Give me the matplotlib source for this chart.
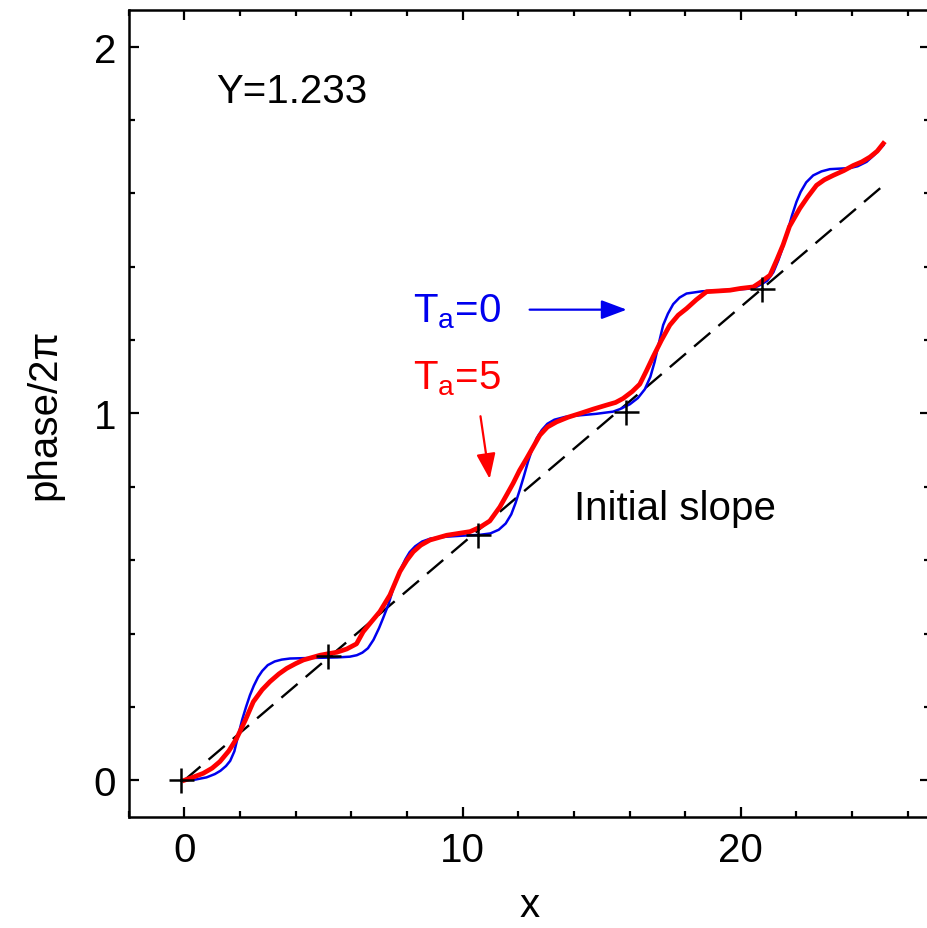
import matplotlib
matplotlib.use("Agg")
import matplotlib.pyplot as plt
from matplotlib.ticker import MultipleLocator

plt.rcParams['font.family'] = ['Liberation Sans', 'DejaVu Sans']
plt.rcParams['mathtext.fontset'] = 'custom'
plt.rcParams['mathtext.rm'] = 'Liberation Sans'
plt.rcParams['mathtext.it'] = 'Liberation Sans:italic'

# T_a = 0 (blue)
blue_x = [0, 0.4, 0.8, 1.1, 1.3, 1.5, 1.65, 1.8, 1.94, 2.08, 2.22, 2.36, 2.5, 2.65, 2.8, 3.0,
          3.25, 3.5, 3.8, 4.3,
          4.88, 5.5, 5.95, 6.2, 6.4, 6.6, 6.8, 7.0, 7.15, 7.33, 7.5, 7.65, 7.8, 7.95, 8.1, 8.3,
          8.55, 8.85, 9.4, 10.03,
          10.6, 11.0, 11.3, 11.55, 11.75, 11.9, 12.05, 12.2, 12.35, 12.5, 12.66, 12.85, 13.05,
          13.3, 13.7, 14.22, 14.8, 15.41,
          15.66, 16.01, 16.3, 16.55, 16.75, 16.9, 17.05, 17.21, 17.38, 17.57, 17.8, 18.05, 18.6,
          19.25, 19.9, 20.45,
          20.69, 20.95, 21.17, 21.35, 21.52, 21.68, 21.84, 22.0, 22.15, 22.35, 22.6, 22.9, 23.2,
          23.92, 24.2, 24.52, 24.8, 25.12]
blue_y = [0, 0.002, 0.008, 0.017, 0.026, 0.039, 0.053, 0.079, 0.123, 0.165, 0.2, 0.232, 0.258,
          0.281, 0.298, 0.314, 0.324, 0.329, 0.332, 0.333,
          0.334, 0.335, 0.337, 0.341, 0.348, 0.36, 0.383, 0.415, 0.443, 0.478, 0.52, 0.552, 0.58,
          0.603, 0.622, 0.638, 0.651, 0.659, 0.664, 0.667,
          0.669, 0.673, 0.683, 0.7, 0.725, 0.755, 0.79, 0.828, 0.868, 0.902, 0.932, 0.955, 0.972,
          0.983, 0.991, 0.995, 0.999, 1.005,
          1.012, 1.025, 1.042, 1.066, 1.1, 1.14, 1.19, 1.241, 1.272, 1.298, 1.316, 1.327, 1.333,
          1.336, 1.338, 1.341,
          1.35, 1.362, 1.385, 1.418, 1.455, 1.497, 1.54, 1.577, 1.604, 1.63, 1.649, 1.66, 1.666,
          1.669, 1.674, 1.686, 1.705, 1.731]

# T_a = 5 (red)
red_x = [0, 0.3, 0.68, 1.0, 1.28, 1.6, 1.88, 2.2, 2.48, 2.8, 3.08, 3.4, 3.68, 4.0, 4.28, 4.88,
         5.24, 5.48, 5.84, 6.19, 6.43, 6.7, 7.03, 7.39, 7.75, 8.0, 8.23, 8.5, 8.83, 9.43, 10.27,
         10.63, 10.98, 11.34, 11.6, 11.82, 12.05, 12.3, 12.78, 13.05, 13.38, 13.8, 14.22, 14.7,
         15.18, 15.5, 15.77, 16.1, 16.37, 16.6, 16.85, 17.15, 17.45, 17.75, 18.05, 18.4, 18.77,
         19.2, 19.61, 20.0, 20.45, 20.69, 21.05, 21.3, 21.52, 21.75, 22.12, 22.4, 22.72, 23.0,
         23.32, 23.7, 24.04, 24.35, 24.64, 24.9, 25.12]
red_y = [0, 0.008, 0.019, 0.033, 0.051, 0.08, 0.114, 0.165, 0.214, 0.247, 0.269, 0.29, 0.305,
         0.318, 0.328, 0.341, 0.346, 0.349, 0.358, 0.372, 0.405, 0.43, 0.46, 0.505, 0.569, 0.6,
         0.623, 0.641, 0.655, 0.668, 0.678, 0.69, 0.707, 0.745, 0.78, 0.81, 0.845, 0.877, 0.941,
         0.963, 0.977, 0.99, 1.0, 1.012, 1.023, 1.03, 1.041, 1.06, 1.08, 1.115, 1.155, 1.2,
         1.241, 1.268, 1.286, 1.31, 1.332, 1.334, 1.336, 1.341, 1.345, 1.357, 1.377, 1.42, 1.46,
         1.51, 1.559, 1.59, 1.622, 1.637, 1.649, 1.662, 1.676, 1.686, 1.699, 1.715, 1.736]

# initial slope line and markers
slope_x = [0, 25.1]
slope_y = [0, 1.62]
mark_x = [-0.1, 5.16, 10.55, 15.87, 20.76]
mark_y = [0, 0.338, 0.670, 1.005, 1.34]

fig = plt.figure(figsize=(9.28, 9.29), dpi=100)
ax = fig.add_axes([0.1386, 0.1195, 0.8636, 0.8687])

ax.plot(slope_x, slope_y, color='black', lw=1.7, dashes=(9, 4.5), zorder=2)
ax.plot(blue_x, blue_y, color='#0000ee', lw=1.8, zorder=3, solid_joinstyle='round')
ax.plot(red_x, red_y, color='#ff0000', lw=3.4, zorder=4, solid_joinstyle='round')
ax.plot(mark_x, mark_y, linestyle='none', marker='+', color='black', ms=18, mew=1.8, zorder=5)

ax.set_xlim(-2, 26.8)
ax.set_ylim(-0.1, 2.1)
ax.xaxis.set_major_locator(MultipleLocator(10))
ax.xaxis.set_minor_locator(MultipleLocator(2))
ax.yaxis.set_major_locator(MultipleLocator(1))
ax.yaxis.set_minor_locator(MultipleLocator(0.2))
ax.tick_params(which='both', direction='in', top=True, right=True, width=1.6, labelsize=29)
ax.tick_params(which='major', length=7.5)
ax.tick_params(which='minor', length=4.5)
ax.tick_params(axis='x', pad=10)
ax.tick_params(axis='y', pad=9)
for s in ax.spines.values():
    s.set_linewidth(1.8)

ax.set_xlabel('x', fontsize=29, labelpad=12)
ax.set_ylabel('phase/2π', fontsize=29, labelpad=22)

ax.text(1.16, 1.85, 'Y=1.233', fontsize=29, color='black', ha='left', va='baseline')
ax.text(8.21, 1.2515, r'T$_{\mathrm{a}}$=0', fontsize=29, color='#0000ee', ha='left', va='baseline')
ax.text(8.21, 1.068, r'T$_{\mathrm{a}}$=5', fontsize=29, color='#ff0000', ha='left', va='baseline')
ax.text(14.0, 0.711, 'Initial slope', fontsize=29, color='black', ha='left', va='baseline')

ax.annotate('', xy=(16.0, 1.283), xytext=(12.31, 1.283),
            arrowprops=dict(arrowstyle='-|>,head_length=1.2,head_width=0.45', mutation_scale=13,
                            color='#0000ee', lw=1.6))
ax.annotate('', xy=(10.99, 0.814), xytext=(10.63, 1.0),
            arrowprops=dict(arrowstyle='-|>,head_length=1.2,head_width=0.45', mutation_scale=13,
                            color='#ff0000', lw=1.6))

fig.savefig('out.png', dpi=100)
